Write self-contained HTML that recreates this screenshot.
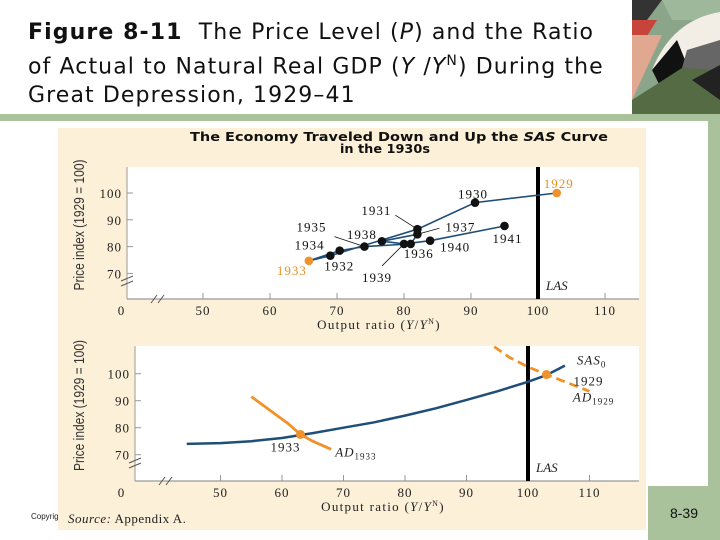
<!DOCTYPE html>
<html><head><meta charset="utf-8">
<style>
html,body{margin:0;padding:0;background:#fff;}
body{width:720px;height:540px;position:relative;overflow:hidden;font-family:"DejaVu Sans","Liberation Sans",sans-serif;}
#title{position:absolute;left:28px;top:18px;font-size:22px;line-height:29px;color:#111;letter-spacing:1.1px;white-space:nowrap;}
#art{position:absolute;left:632px;top:0;width:88px;height:114px;}
#band{position:absolute;left:0;top:114px;width:720px;height:7px;background:#a9c29c;}
#rstrip{position:absolute;left:708px;top:114px;width:12px;height:426px;background:#a9c29c;}
#pnum{position:absolute;left:648px;top:486px;width:72px;height:54px;background:#a9c29c;font-size:14px;color:#111;text-align:center;line-height:54px;font-family:"Liberation Sans",sans-serif;}
#copy{position:absolute;left:31px;top:512px;font-size:8px;font-family:"Liberation Sans",sans-serif;color:#222;}
svg{position:absolute;left:0;top:0;}
</style></head><body>
<div id="title"><b>Figure 8-11</b>&nbsp; The Price Level (<i>P</i>) and the Ratio<br>of Actual to Natural Real GDP (<i>Y</i> /<i>Y</i><sup style="font-size:14px">N</sup>) During the<br>Great Depression, 1929–41</div>
<svg id="art" viewBox="0 0 88 114" width="88" height="114">
<rect width="88" height="114" fill="#8aa58a"/>
<polygon points="0,0 30,0 0,40" fill="#333"/>
<polygon points="30,0 88,0 88,20 40,20" fill="#9db89a"/>
<polygon points="0,20 25,20 0,60" fill="#c8443a"/>
<polygon points="0,35 30,35 0,100" fill="#e0a890"/>
<path d="M20,70 Q40,20 88,12 L88,55 Z" fill="#f2eee6"/>
<polygon points="20,70 45,40 55,65 30,90" fill="#111"/>
<polygon points="55,50 88,40 88,75 50,68" fill="#666"/>
<polygon points="0,100 50,68 88,70 88,114 0,114" fill="#556b44"/>
<polygon points="60,80 88,65 88,100" fill="#222"/>
</svg>
<div id="band"></div>
<div id="rstrip"></div>
<div id="pnum">8-39</div>
<div id="copy">Copyrig</div>
<svg id="chart" width="720" height="540"></svg>
<script>
// ---- data: top panel (actual path) ----
const years = ["1929","1930","1931","1932","1933","1934","1935","1936","1937","1938","1939","1940","1941"];
const outputRatio = [102.8,90.6,82.0,69.0,65.8,70.4,74.1,81.0,82.0,76.7,80.0,83.9,95.0];
const priceIndex = [100,96.4,86.5,76.6,74.7,78.5,80,81,84.6,82,81,82.2,87.7];
const xTicks = [50,60,70,80,90,100,110];
const yTicks = [70,80,90,100];
// ---- data: bottom panel (model curves) ----
const sasX = [44.5,50,55,60,65,70,75,80,85,90,95,100,103,106];
const sasY = [74,74.3,75,76.2,78,80,82,84.5,87.2,90.3,93.5,97,99.5,103];
const ad1933X = [55,58,61,63,65,68];
const ad1933Y = [91.5,86.5,81.5,77.5,75,72];
const ad1929X = [94.5,97,100,103,106,110];
const ad1929Y = [110,106,102.5,99.7,97,93.5];
const eqX = [63,103];
const eqY = [77.5,99.7];
const eqLabels = ["1933","1929"];

const NS="http://www.w3.org/2000/svg";
const svg=document.getElementById('chart');
function mk(tag,attrs,parent){const e=document.createElementNS(NS,tag);for(const k in attrs)e.setAttribute(k,attrs[k]);(parent||svg).appendChild(e);return e;}
const serif='"Liberation Serif",serif';

const panel=mk('rect',{x:58,y:128,width:588,height:402,fill:'#fdf0d8'});



function drawAxes(P,name){
  const g=mk('g',{});
  
  
  const r=mk('rect',{x:P.l,y:P.t,width:P.r-P.l,height:P.b-P.t,fill:'#fff'},g);
  
  
  mk('line',{x1:P.l,y1:P.b,x2:P.r,y2:P.b,stroke:'#999','stroke-width':1.2},g);
  mk('line',{x1:P.l,y1:P.t,x2:P.l,y2:P.b,stroke:'#999','stroke-width':1},g);
  xTicks.forEach(v=>{
    const x=P.sx(v);
    mk('line',{x1:x,y1:P.b,x2:x,y2:P.b-6,stroke:'#999'},g);
    const t=mk('text',{x:x,y:P.b+16,'text-anchor':'middle','font-size':13,'letter-spacing':1,'font-family':serif,fill:'#222'},g);
    t.textContent=v;
    
    
  });
  const z=mk('text',{x:121,y:P.b+16,'text-anchor':'middle','font-size':13,'font-family':serif,fill:'#222'},g);z.textContent='0';
  yTicks.forEach(v=>{
    const y=P.sy(v);
    mk('line',{x1:P.l,y1:y,x2:P.l+6,y2:y,stroke:'#999'},g);
    const t=mk('text',{x:P.l-5,y:y+5,'text-anchor':'end','font-size':13,'letter-spacing':1,'font-family':serif,fill:'#222'},g);
    t.textContent=v;
    
    
  });
  mk('path',{d:`M${P.l-6},${P.b-18} l12,-5 M${P.l-6},${P.b-13} l12,-5`,stroke:'#555',fill:'none'},g);
  mk('path',{d:`M${P.l+24},${P.b+4} l6,-8 M${P.l+31},${P.b+4} l6,-8`,stroke:'#555',fill:'none'},g);
  const xt=mk('text',{x:(P.l+P.r)/2-4,y:P.b+30,'text-anchor':'middle','font-size':13,'letter-spacing':1.3,'font-family':serif,fill:'#222'},g);
  xt.innerHTML='Output ratio (<tspan font-style="italic">Y</tspan>/<tspan font-style="italic">Y</tspan><tspan font-size="8" dy="-5">N</tspan><tspan dy="5">)</tspan>';
  
  
  const yt=mk('text',{transform:`translate(${84},${(P.t+P.b)/2-8}) rotate(-90) scale(0.8,1)`,'text-anchor':'middle','font-size':15,'font-family':'"Liberation Sans",sans-serif',fill:'#333'},g);
  yt.textContent='Price index (1929 = 100)';
  
  
  const las=mk('line',{x1:P.sx(100),y1:P.t,x2:P.sx(100),y2:P.b,stroke:'#000','stroke-width':4},g);
  
  
  const lt=mk('text',{x:P.sx(100)+8,y:P.b-9,'font-size':13,'font-style':'italic','font-family':serif,fill:'#222'},g);
  lt.textContent='LAS';
  return g;
}
function path(xs,ys,P){return xs.map((v,i)=>(i?'L':'M')+P.sx(v).toFixed(1)+','+P.sy(ys[i]).toFixed(1)).join(' ');}

// top panel
const T={l:127,r:639,t:167,b:299};
T.sx=v=>203+(v-50)*6.7; T.sy=v=>193+(100-v)*2.68;
const sansB='"DejaVu Sans","Liberation Sans",sans-serif';
const tt=mk('text',{x:190,y:141,'font-size':12,'font-weight':'bold','font-family':sansB,fill:'#111',textLength:418,lengthAdjust:'spacingAndGlyphs'});
tt.innerHTML='The Economy Traveled Down and Up the <tspan font-style="italic">SAS</tspan> Curve';


const tt2=mk('text',{x:340,y:153,'font-size':12,'font-weight':'bold','font-family':sansB,fill:'#111',textLength:90,lengthAdjust:'spacingAndGlyphs'});
tt2.textContent='in the 1930s';
drawAxes(T,'top-chart');
const pl=mk('path',{d:path(outputRatio,priceIndex,T),stroke:'#1f4e79','stroke-width':1.6,fill:'none'});


// leader lines (layout only)
[[2,-22,-14],[6,-30,-10],[10,-22,22],[8,22,-6]].forEach(([i,dx,dy])=>{
  const x=T.sx(outputRatio[i]),y=T.sy(priceIndex[i]);
  mk('line',{x1:x,y1:y,x2:x+dx,y2:y+dy,stroke:'#111','stroke-width':0.8});
});
// label offsets (layout only)
const lblDX=[-13,-17,-56,-6,-32,-45,-68,-7,28,-35,-42,10,-12];
const lblDY=[-5,-4,-14,15,14,-1,-15,14,-3,-2,38,11,17];
years.forEach((yr,i)=>{
  const x=T.sx(outputRatio[i]),y=T.sy(priceIndex[i]);
  const orange=(yr==='1929'||yr==='1933');
  const c=mk('circle',{cx:x,cy:y,r:4.3,fill:orange?'#f0922b':'#111'});
  
  
  const t=mk('text',{x:x+lblDX[i],y:y+lblDY[i],'font-size':13,'letter-spacing':1,'font-family':serif,fill:orange?'#e8901f':'#111'});
  t.textContent=yr;
  
  
});

// bottom panel
const B={l:135,r:639,t:346,b:481};
B.sx=v=>220.5+(v-50)*6.15; B.sy=v=>373.7+(100-v)*2.7;
drawAxes(B,'bottom-chart');
const clip=mk('clipPath',{id:'bclip'});mk('rect',{x:B.l,y:B.t,width:B.r-B.l,height:B.b-B.t},clip);
const sas=mk('path',{d:path(sasX,sasY,B),stroke:'#1f4e79','stroke-width':2.5,fill:'none','clip-path':'url(#bclip)'});


const a33=mk('path',{d:path(ad1933X,ad1933Y,B),stroke:'#f0922b','stroke-width':2.8,fill:'none'});


const a29=mk('path',{d:path(ad1929X,ad1929Y,B),stroke:'#f0922b','stroke-width':2.8,fill:'none','stroke-dasharray':'9,5','clip-path':'url(#bclip)'});


eqX.forEach((v,i)=>{
  const c=mk('circle',{cx:B.sx(v),cy:B.sy(eqY[i]),r:4.5,fill:'#f0922b'});
  
  
});
function lab(txt,x,y,name,sub){const t=mk('text',{x:x,y:y,'font-size':13,'letter-spacing':1,'font-family':serif,fill:'#222','font-style':sub?'italic':'normal'});
 t.innerHTML=sub?txt+'<tspan font-size="9" font-style="normal" dy="3">'+sub+'</tspan>':txt;
 }
lab('1933',B.sx(eqX[0])-30,B.sy(eqY[0])+17,'label-eq-1933');
lab('1929',B.sx(eqX[1])+27,B.sy(eqY[1])+11,'label-eq-1929');
lab('SAS',B.sx(106)+12,B.sy(103)-1,'label-sas','0');
lab('AD',B.sx(106)+8,B.sy(90)+1,'label-ad-1929','1929');
lab('AD',B.sx(68)+4,B.sy(70)+2,'label-ad-1933','1933');

const src=mk('text',{x:68,y:523,'font-size':13,'letter-spacing':0.5,'font-family':serif,fill:'#222'});
src.innerHTML='<tspan font-style="italic">Source:</tspan> Appendix A.';


</script>
</body></html>
